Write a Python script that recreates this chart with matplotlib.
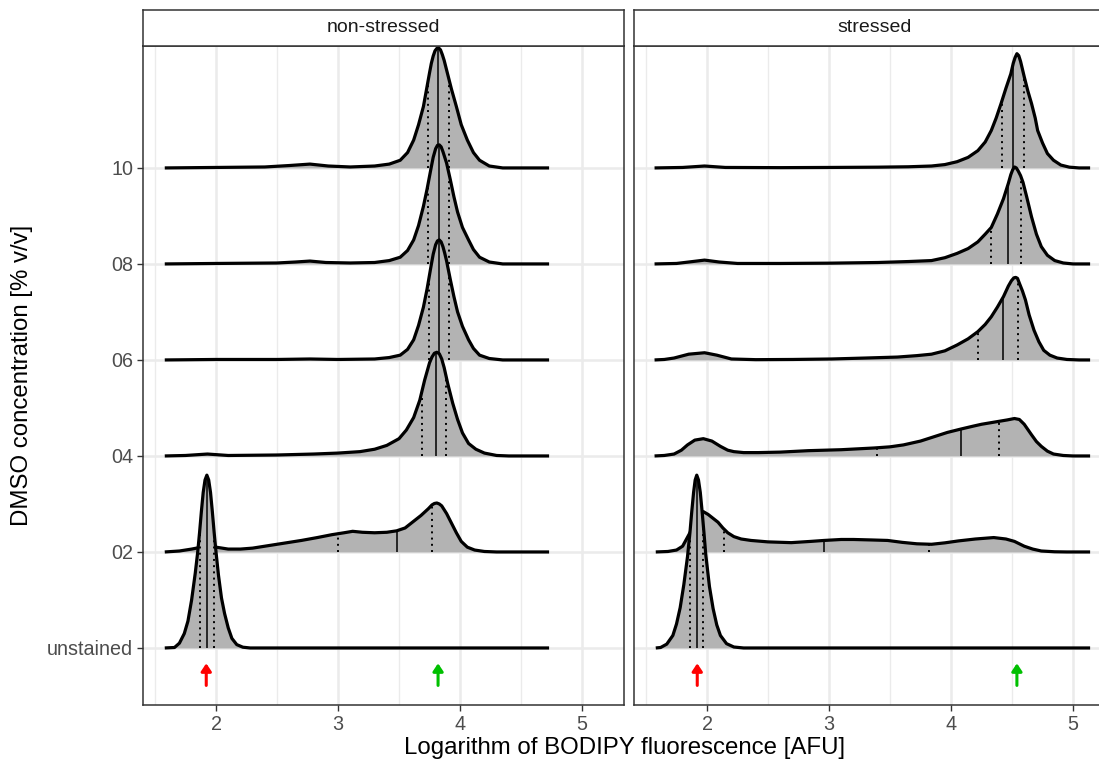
import numpy as np
import matplotlib
matplotlib.use("Agg")
import matplotlib.pyplot as plt

plt.rcParams['font.family'] = ['Liberation Sans', 'DejaVu Sans']

# ---------------- data ----------------
categories = ['unstained', '02', '04', '06', '08', '10']
panels = ['non-stressed', 'stressed']
xticks = [2, 3, 4, 5]

# non-stressed ridges (x, density height in row units)
ns_unst_x = [1.58, 1.66, 1.70, 1.74, 1.77, 1.80, 1.83, 1.85, 1.865, 1.88, 1.895, 1.91, 1.925, 1.94, 1.955, 1.97, 1.985, 2.00, 2.02, 2.045, 2.07, 2.10, 2.13, 2.17, 2.22, 2.28, 4.73]
ns_unst_h = [0, 0.005, 0.05, 0.15, 0.28, 0.50, 0.78, 1.00, 1.20, 1.42, 1.62, 1.75, 1.80, 1.75, 1.62, 1.42, 1.20, 1.00, 0.76, 0.52, 0.36, 0.21, 0.10, 0.035, 0.008, 0, 0]
ns_02_x = [1.58, 1.70, 1.80, 1.92, 2.00, 2.10, 2.20, 2.30, 2.45, 2.55, 2.70, 2.83, 2.95, 3.05, 3.12, 3.20, 3.30, 3.40, 3.48, 3.55, 3.62, 3.68, 3.74, 3.77, 3.79, 3.81, 3.83, 3.85, 3.89, 3.93, 3.97, 4.01, 4.06, 4.12, 4.20, 4.30, 4.73]
ns_02_h = [0, 0.01, 0.03, 0.06, 0.05, 0.03, 0.03, 0.04, 0.07, 0.09, 0.12, 0.15, 0.18, 0.20, 0.215, 0.205, 0.20, 0.205, 0.22, 0.25, 0.32, 0.38, 0.45, 0.49, 0.505, 0.51, 0.50, 0.48, 0.40, 0.30, 0.20, 0.11, 0.05, 0.02, 0.005, 0, 0]
ns_04_x = [1.58, 1.75, 1.93, 2.10, 2.50, 2.80, 3.00, 3.18, 3.30, 3.40, 3.50, 3.56, 3.62, 3.67, 3.71, 3.75, 3.77, 3.79, 3.81, 3.83, 3.85, 3.87, 3.90, 3.94, 3.98, 4.02, 4.07, 4.13, 4.20, 4.30, 4.40, 4.73]
ns_04_h = [0, 0.005, 0.02, 0.005, 0.01, 0.02, 0.03, 0.045, 0.07, 0.11, 0.18, 0.27, 0.40, 0.58, 0.79, 0.97, 1.03, 1.07, 1.08, 1.065, 1.01, 0.92, 0.75, 0.55, 0.38, 0.24, 0.13, 0.07, 0.03, 0.005, 0, 0]
ns_06_x = [1.58, 2.00, 2.50, 2.77, 3.00, 3.30, 3.42, 3.51, 3.57, 3.62, 3.66, 3.70, 3.73, 3.76, 3.78, 3.80, 3.815, 3.83, 3.845, 3.86, 3.875, 3.89, 3.92, 3.95, 3.98, 4.02, 4.07, 4.11, 4.16, 4.24, 4.35, 4.73]
ns_06_h = [0, 0.005, 0.005, 0.01, 0.005, 0.01, 0.025, 0.05, 0.11, 0.21, 0.36, 0.55, 0.74, 0.96, 1.10, 1.20, 1.24, 1.25, 1.23, 1.18, 1.11, 1.03, 0.84, 0.66, 0.50, 0.35, 0.21, 0.12, 0.05, 0.015, 0, 0]
ns_08_x = [1.58, 2.00, 2.50, 2.65, 2.77, 2.90, 3.10, 3.30, 3.42, 3.51, 3.57, 3.62, 3.66, 3.70, 3.73, 3.76, 3.78, 3.80, 3.815, 3.83, 3.845, 3.86, 3.875, 3.89, 3.92, 3.95, 3.98, 4.02, 4.07, 4.11, 4.16, 4.24, 4.35, 4.73]
ns_08_h = [0, 0.005, 0.01, 0.02, 0.03, 0.015, 0.01, 0.015, 0.035, 0.07, 0.14, 0.25, 0.40, 0.60, 0.78, 0.98, 1.11, 1.20, 1.235, 1.24, 1.22, 1.17, 1.11, 1.05, 0.88, 0.70, 0.54, 0.38, 0.25, 0.15, 0.07, 0.02, 0, 0]
ns_10_x = [1.58, 2.00, 2.40, 2.60, 2.77, 2.92, 3.10, 3.30, 3.42, 3.51, 3.57, 3.62, 3.66, 3.70, 3.72, 3.75, 3.765, 3.78, 3.795, 3.81, 3.825, 3.84, 3.855, 3.87, 3.89, 3.93, 3.97, 4.01, 4.06, 4.11, 4.16, 4.24, 4.35, 4.73]
ns_10_h = [0, 0.005, 0.01, 0.025, 0.04, 0.02, 0.01, 0.02, 0.04, 0.08, 0.16, 0.29, 0.45, 0.64, 0.78, 0.99, 1.09, 1.165, 1.22, 1.245, 1.25, 1.23, 1.18, 1.12, 1.02, 0.82, 0.64, 0.45, 0.29, 0.16, 0.08, 0.02, 0, 0]

# stressed ridges
s_unst_x = [1.58, 1.62, 1.67, 1.72, 1.75, 1.78, 1.81, 1.84, 1.86, 1.875, 1.89, 1.903, 1.916, 1.93, 1.945, 1.96, 1.975, 1.99, 2.02, 2.05, 2.08, 2.11, 2.16, 2.22, 2.30, 5.14]
s_unst_h = [0, 0.005, 0.04, 0.13, 0.25, 0.42, 0.66, 0.95, 1.20, 1.42, 1.62, 1.75, 1.80, 1.75, 1.62, 1.42, 1.20, 0.97, 0.64, 0.41, 0.24, 0.13, 0.045, 0.01, 0, 0]
s_02_x = [1.58, 1.68, 1.75, 1.80, 1.86, 1.92, 1.97, 2.01, 2.05, 2.09, 2.13, 2.17, 2.22, 2.28, 2.36, 2.50, 2.69, 2.85, 2.96, 3.10, 3.20, 3.35, 3.48, 3.60, 3.72, 3.84, 3.95, 4.06, 4.20, 4.35, 4.45, 4.52, 4.60, 4.67, 4.74, 4.85, 4.95, 5.14]
s_02_h = [0, 0.005, 0.02, 0.06, 0.20, 0.36, 0.42, 0.39, 0.35, 0.31, 0.25, 0.20, 0.16, 0.135, 0.12, 0.105, 0.097, 0.11, 0.12, 0.13, 0.13, 0.125, 0.12, 0.10, 0.085, 0.08, 0.095, 0.115, 0.135, 0.15, 0.135, 0.11, 0.06, 0.03, 0.01, 0.002, 0, 0]
s_04_x = [1.57, 1.65, 1.73, 1.79, 1.84, 1.90, 1.97, 2.04, 2.11, 2.17, 2.22, 2.30, 2.42, 2.60, 2.83, 3.10, 3.37, 3.50, 3.61, 3.75, 3.86, 3.97, 4.08, 4.18, 4.25, 4.32, 4.39, 4.46, 4.52, 4.56, 4.60, 4.66, 4.70, 4.74, 4.79, 4.84, 4.92, 5.00, 5.14]
s_04_h = [0, 0.005, 0.02, 0.06, 0.115, 0.165, 0.18, 0.155, 0.10, 0.06, 0.045, 0.035, 0.035, 0.04, 0.055, 0.065, 0.083, 0.095, 0.115, 0.155, 0.20, 0.245, 0.28, 0.31, 0.33, 0.345, 0.36, 0.375, 0.39, 0.38, 0.33, 0.22, 0.15, 0.10, 0.05, 0.02, 0.005, 0, 0]
s_06_x = [1.57, 1.65, 1.73, 1.85, 1.98, 2.08, 2.20, 2.40, 2.70, 3.02, 3.30, 3.56, 3.72, 3.84, 3.95, 4.05, 4.14, 4.22, 4.28, 4.33, 4.38, 4.43, 4.47, 4.495, 4.515, 4.53, 4.545, 4.56, 4.585, 4.61, 4.64, 4.68, 4.72, 4.76, 4.81, 4.87, 4.95, 5.05, 5.14]
s_06_h = [0, 0.005, 0.02, 0.06, 0.075, 0.05, 0.01, 0.003, 0.005, 0.01, 0.02, 0.03, 0.045, 0.06, 0.095, 0.156, 0.22, 0.295, 0.37, 0.45, 0.55, 0.66, 0.77, 0.825, 0.855, 0.86, 0.85, 0.80, 0.72, 0.625, 0.47, 0.31, 0.19, 0.10, 0.05, 0.02, 0.005, 0, 0]
s_08_x = [1.57, 1.75, 1.85, 1.98, 2.10, 2.25, 2.60, 3.00, 3.40, 3.65, 3.84, 3.95, 4.05, 4.14, 4.22, 4.28, 4.33, 4.38, 4.43, 4.47, 4.49, 4.505, 4.52, 4.535, 4.55, 4.57, 4.59, 4.62, 4.66, 4.70, 4.74, 4.79, 4.85, 4.92, 5.00, 5.14]
s_08_h = [0, 0.005, 0.02, 0.04, 0.02, 0.005, 0.005, 0.008, 0.015, 0.025, 0.035, 0.065, 0.11, 0.16, 0.23, 0.31, 0.38, 0.52, 0.68, 0.84, 0.93, 0.98, 1.01, 1.00, 0.97, 0.92, 0.85, 0.70, 0.49, 0.31, 0.18, 0.09, 0.035, 0.01, 0, 0]
s_10_x = [1.57, 1.80, 1.98, 2.15, 2.60, 3.00, 3.40, 3.65, 3.84, 3.95, 4.05, 4.14, 4.22, 4.28, 4.33, 4.37, 4.41, 4.45, 4.49, 4.51, 4.525, 4.54, 4.555, 4.57, 4.585, 4.60, 4.63, 4.66, 4.69, 4.71, 4.75, 4.79, 4.84, 4.90, 4.97, 5.05, 5.14]
s_10_h = [0, 0.005, 0.02, 0.005, 0.003, 0.005, 0.008, 0.012, 0.02, 0.035, 0.065, 0.11, 0.18, 0.27, 0.39, 0.52, 0.67, 0.83, 0.98, 1.09, 1.15, 1.19, 1.17, 1.11, 1.03, 0.95, 0.80, 0.67, 0.52, 0.39, 0.26, 0.15, 0.08, 0.03, 0.008, 0, 0]

# quartiles (25 %, median, 75 %) per ridge
ns_quartiles = [[1.87, 1.93, 1.98], [3.00, 3.48, 3.77], [3.69, 3.80, 3.885],
                [3.745, 3.83, 3.91], [3.74, 3.83, 3.91], [3.735, 3.82, 3.91]]
s_quartiles = [[1.86, 1.92, 1.97], [2.14, 2.96, 3.82], [3.39, 4.08, 4.39],
               [4.22, 4.43, 4.55], [4.33, 4.47, 4.57], [4.415, 4.51, 4.60]]

# marker arrows
ns_arrow_x = [1.92, 3.82]
s_arrow_x = [1.92, 4.54]
arrow_colors = ['#FF0000', '#00C000']

ns_x = [ns_unst_x, ns_02_x, ns_04_x, ns_06_x, ns_08_x, ns_10_x]
ns_h = [ns_unst_h, ns_02_h, ns_04_h, ns_06_h, ns_08_h, ns_10_h]
s_x = [s_unst_x, s_02_x, s_04_x, s_06_x, s_08_x, s_10_x]
s_h = [s_unst_h, s_02_h, s_04_h, s_06_h, s_08_h, s_10_h]

# ---------------- figure ----------------
W, H = 1099, 763
fig = plt.figure(figsize=(W / 100, H / 100), dpi=100)

def fx(px):
    return px / W

def fy(py):
    return 1 - py / H

panel_top, panel_bot = 46, 705
panel_w = 481
lefts = [143, 634]

xlim = (1.4016, 5.344)
ylim = (0.406, 7.27)

for pi, (left, name) in enumerate(zip(lefts, panels)):
    ax = fig.add_axes([fx(left), fy(panel_bot), panel_w / W, (panel_bot - panel_top) / H])
    ax.set_xlim(*xlim)
    ax.set_ylim(*ylim)
    ax.set_facecolor('white')
    # grid
    for xm in [1.5, 2.5, 3.5, 4.5]:
        ax.axvline(xm, color='#EBEBEB', lw=1.0, zorder=0)
    for xv in xticks:
        ax.axvline(xv, color='#EBEBEB', lw=1.8, zorder=0)
    for yv in range(1, len(categories) + 1):
        ax.axhline(yv, color='#EBEBEB', lw=1.8, zorder=0)

    xs = ns_x if pi == 0 else s_x
    hs = ns_h if pi == 0 else s_h
    qs = ns_quartiles if pi == 0 else s_quartiles
    n = len(categories)
    for i in range(n - 1, -1, -1):
        base = i + 1
        x = np.array(xs[i])
        h = np.array(hs[i])
        z = 2 + (n - i) * 3
        ax.fill_between(x, base, base + h, color='#B3B3B3', lw=0, zorder=z)
        for k, q in enumerate(qs[i]):
            top = base + np.interp(q, x, h)
            if k == 1:
                ax.plot([q, q], [base, top], color='black', lw=1.1, zorder=z + 1,
                        solid_capstyle='butt')
            else:
                ax.plot([q, q], [base, top], color='black', lw=1.4, zorder=z + 1,
                        linestyle=(0, (1, 2.2)))
        ax.plot(x, base + h, color='black', lw=2.3, zorder=z + 2,
                solid_joinstyle='round', solid_capstyle='butt')

    ax_ = ns_arrow_x if pi == 0 else s_arrow_x
    for xa, col in zip(ax_, arrow_colors):
        ax.annotate('', xy=(xa, 0.84), xytext=(xa, 0.61),
                    arrowprops=dict(arrowstyle='-|>,head_width=0.3,head_length=0.45',
                                    color=col, lw=2.2, shrinkA=0, shrinkB=0),
                    zorder=50)

    ax.set_xticks(xticks)
    ax.set_xticklabels([str(v) for v in xticks])
    ax.set_yticks(range(1, n + 1))
    if pi == 0:
        ax.set_yticklabels(categories)
    else:
        ax.set_yticklabels([])
    ax.tick_params(axis='both', colors='#333333', labelcolor='#4D4D4D',
                   labelsize=14.2, length=4, width=1.0)
    if pi == 1:
        ax.tick_params(axis='y', length=0)
    ax.tick_params(axis='x', pad=3)
    ax.tick_params(axis='y', pad=3)
    for sp in ax.spines.values():
        sp.set_color('#333333')
        sp.set_linewidth(1.1)
    ax.grid(False)

    # strip
    sax = fig.add_axes([fx(left), fy(panel_top), panel_w / W, 36 / H])
    sax.set_xticks([])
    sax.set_yticks([])
    sax.set_facecolor('white')
    for sp in sax.spines.values():
        sp.set_color('#333333')
        sp.set_linewidth(1.1)
    sax.text(0.5, 0.5, name, ha='center', va='center', fontsize=14,
             color='#1A1A1A', transform=sax.transAxes)

fig.text(fx(625), fy(748), 'Logarithm of BODIPY fluorescence [AFU]', ha='center', va='center',
         fontsize=17.3, color='black')
fig.text(fx(22), fy(375), 'DMSO concentration [% v/v]', ha='center', va='center',
         rotation=90, fontsize=17.3, color='black')

fig.savefig('out.png', dpi=100)
